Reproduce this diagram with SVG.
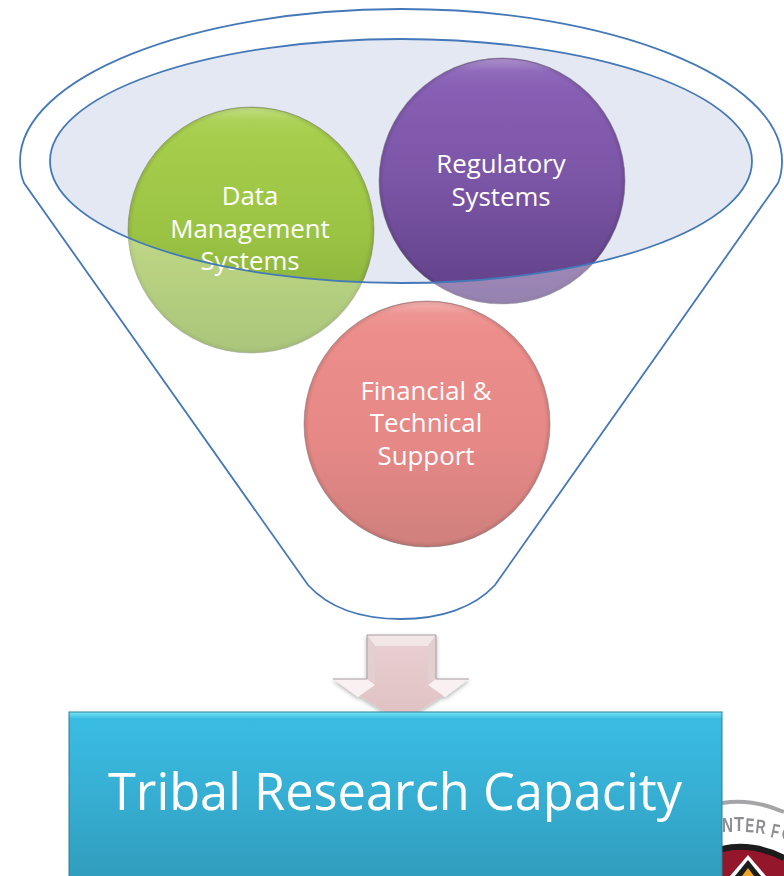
<svg xmlns="http://www.w3.org/2000/svg" width="784" height="876" viewBox="0 0 784 876">
<style>
.lbl{font-family:"Open Sans","Noto Sans",sans-serif;fill:#fff;font-size:25.8px;text-anchor:middle}
.ln{fill:none;stroke:#4478b8;stroke-width:1.8}
.rim{fill:url(#rim);stroke:#77777a;stroke-opacity:.5;stroke-width:1}
.hi{fill:url(#hi)}
</style>
<defs>
<linearGradient id="gG" x1="0" y1="0" x2="0" y2="1"><stop offset="0" stop-color="#a9d04e"/><stop offset=".5" stop-color="#9cc444"/><stop offset="1" stop-color="#7ea634"/></linearGradient>
<linearGradient id="gP" x1="0" y1="0" x2="0" y2="1"><stop offset="0" stop-color="#8a62b8"/><stop offset=".5" stop-color="#7b55a6"/><stop offset="1" stop-color="#5f4086"/></linearGradient>
<linearGradient id="gR" x1="0" y1="0" x2="0" y2="1"><stop offset="0" stop-color="#ee8f8c"/><stop offset=".6" stop-color="#e58886"/><stop offset="1" stop-color="#cf807d"/></linearGradient>
<radialGradient id="rim"><stop offset=".96" stop-color="#000" stop-opacity="0"/><stop offset="1" stop-color="#000" stop-opacity=".12"/></radialGradient>
<linearGradient id="hi" x1="0" y1="0" x2="0" y2="1"><stop offset="0" stop-color="#fff" stop-opacity=".3"/><stop offset=".05" stop-color="#fff" stop-opacity=".06"/><stop offset=".12" stop-color="#fff" stop-opacity="0"/></linearGradient>
<linearGradient id="gB" x1="0" y1="0" x2="0" y2="1"><stop offset="0" stop-color="#7ae8f8"/><stop offset=".04" stop-color="#3abce2"/><stop offset=".5" stop-color="#36aed2"/><stop offset="1" stop-color="#2f9cbc"/></linearGradient>
<linearGradient id="gA" x1="0" y1="0" x2="0" y2="1"><stop offset="0" stop-color="#e8d0d2"/><stop offset="1" stop-color="#e0c2c4"/></linearGradient>
<filter id="sh" x="-20%" y="-20%" width="140%" height="140%"><feDropShadow dx="0" dy="2" stdDeviation="2" flood-color="#000" flood-opacity=".3"/></filter>
<filter id="b1"><feGaussianBlur stdDeviation=".6"/></filter>
</defs>
<rect width="784" height="876" fill="#fff"/>
<g id="logo" filter="url(#b1)">
<path d="M722,803 Q752,798 784,812" fill="none" stroke="#a5a5a8" stroke-width="4"/>
<g font-family="Liberation Sans,sans-serif" font-weight="700" font-size="20" fill="#8e8e92">
<text x="722" y="832" textLength="11" lengthAdjust="spacingAndGlyphs">N</text>
<text x="734" y="831" textLength="10" lengthAdjust="spacingAndGlyphs">T</text>
<text x="745" y="832" textLength="9" lengthAdjust="spacingAndGlyphs" transform="rotate(3 745 832)">E</text>
<text x="755" y="833" textLength="10" lengthAdjust="spacingAndGlyphs" transform="rotate(6 755 833)">R</text>
<text x="770" y="837" textLength="8" lengthAdjust="spacingAndGlyphs" transform="rotate(12 770 837)">F</text>
<text x="780" y="839" transform="rotate(15 780 839)">O</text>
</g>
<path d="M722,849 Q752,842 784,858 L784,876 L722,876Z" fill="#94152c"/>
<path d="M722,849 Q752,842 784,858" fill="none" stroke="#1c1a1c" stroke-width="6"/>
<path d="M730,876 L748,855 L766,876Z" fill="#fff"/>
<path d="M735,876 L748,860 L761,876Z" fill="#1c1a1c"/>
<path d="M742,876 L748,868 L754,876Z" fill="#f0a820"/>
</g>
<g id="inner-fill"><ellipse cx="401" cy="161" rx="351" ry="122" fill="#e4e8f2"/></g>
<g id="data-management"><circle cx="251" cy="230" r="123" fill="url(#gG)"/><circle cx="251" cy="230" r="123" class="rim"/><circle cx="251" cy="230" r="122" class="hi"/></g>
<g id="regulatory"><circle cx="502" cy="181" r="123" fill="url(#gP)"/><circle cx="502" cy="181" r="123" class="rim"/><circle cx="502" cy="181" r="122" class="hi"/></g>
<g id="funnel">
<path fill-rule="evenodd" fill="#fff" fill-opacity=".35" d="M24,183 A381,151 0 1 1 778,183 L495,585 Q401,653 308,585Z M50,161 A351,122 0 1 0 752,161 A351,122 0 1 0 50,161Z"/>
</g>
<g id="financial"><circle cx="427" cy="424" r="123" fill="url(#gR)"/><circle cx="427" cy="424" r="123" class="rim"/><circle cx="427" cy="424" r="122" class="hi"/></g>
<g id="labels">
<text class="lbl" x="250" y="205">Data</text>
<text class="lbl" x="250" y="238">Management</text>
<text class="lbl" x="250" y="270">Systems</text>
<text class="lbl" x="501" y="173">Regulatory</text>
<text class="lbl" x="501" y="206">Systems</text>
<text class="lbl" x="426" y="400">Financial &amp;</text>
<text class="lbl" x="426" y="432">Technical</text>
<text class="lbl" x="426" y="465">Support</text>
</g>
<g id="connectors">
<path class="ln" d="M24,183 C21,176 20,168 20,161 C20,78 191,9 401,9 C611,9 782,78 782,161 C782,168 781,176 778,183 L495,585 C474,608 440,619 401,619 C362,619 329,608 308,585Z"/>
<ellipse class="ln" cx="401" cy="161" rx="351" ry="122"/>
</g>
<g id="arrow" filter="url(#sh)">
<path d="M367,635 H436 V679 H469 L417,712 H385 L333,679 H367Z" fill="url(#gA)"/>
<path d="M367,635 H436 L428,646 H375Z" fill="#f2e6e7"/>
<path d="M367,635 L375,646 V683 L367,679Z M436,635 L428,646 V683 L436,679Z" fill="#e3ced0"/>
<path d="M333,679 H367 L375,685 L358,697Z M469,679 H436 L428,685 L445,697Z" fill="#f8f0f1"/>
<path d="M367,679 V635 H436 V679 M333,679 H367 M436,679 H469" fill="none" stroke="#a89ea0" stroke-width="1"/>
</g>
<g id="capacity">
<rect x="69" y="712" width="653" height="170" fill="url(#gB)" stroke="#2a7f96" stroke-width="1"/>
<text x="395" y="810" font-family="Open Sans,Noto Sans,sans-serif" font-size="50.5" fill="#fff" text-anchor="middle">Tribal Research Capacity</text>
</g>
</svg>
